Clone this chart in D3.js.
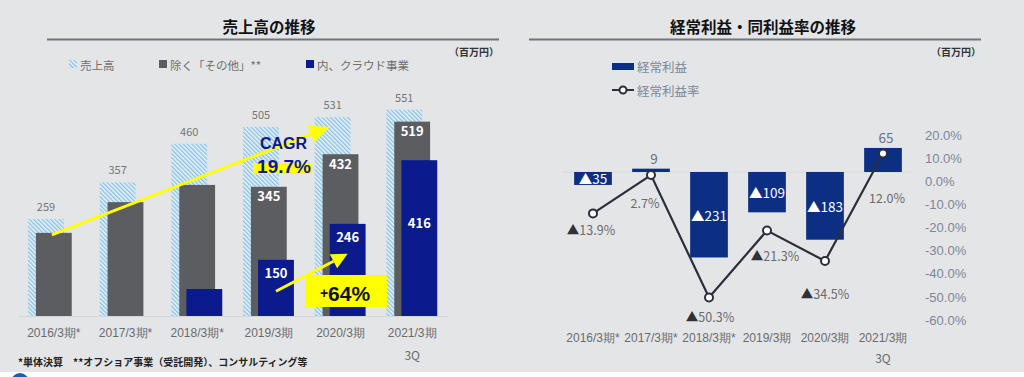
<!DOCTYPE html>
<html>
<head>
<meta charset="utf-8">
<script src="https://cdn.jsdelivr.net/npm/d3@7"></script>
<style>
  body { margin: 0; background: #fff; }
  svg { display: block; font-family: "Noto Sans CJK JP", "Noto Sans", sans-serif; }
</style>
</head>
<body>
<div id="chart"></div>
<script>
// categories
var years = ["2016/3期*", "2017/3期*", "2018/3期*", "2019/3期", "2020/3期", "2021/3期"];
var yearSub = ["", "", "", "", "", "3Q"];

// left chart: 売上高 (百万円)
var sales = [259, 357, 460, 505, 531, 551];
var exOther = [222, 304, 350, 345, 432, 519];
var cloud = [0, 0, 72, 150, 246, 416];
var labelFrom = 3; // inner labels only from 2019/3期

// right chart: 経常利益 (百万円) and 経常利益率 (%)
var ordinary = [-35, 9, -231, -109, -183, 65];
var ordinaryRate = [-13.9, 2.7, -50.3, -21.3, -34.5, 12.0];
var rateTicks = [20, 10, 0, -10, -20, -30, -40, -50, -60];

var W = 1024, H = 377;
var navy = "#0b1a8d", gray = "#5c5d61", navy2 = "#0c2f84", lineCol = "#2b2f3b";
var latin = "'Liberation Sans', Arial, sans-serif";

var svg = d3.select("#chart")
  .append("svg")
  .attr("width", W)
  .attr("height", H);

svg.append("rect").attr("width", W).attr("height", 372).attr("fill", "#e4e5e7");
svg.append("circle").attr("cx", 20).attr("cy", 382).attr("r", 9).attr("fill", "#1f5fa8");

// hatch for 売上高
var pat = svg.append("defs").append("pattern")
  .attr("id", "hatch")
  .attr("patternUnits", "userSpaceOnUse")
  .attr("width", 3).attr("height", 3)
  .attr("patternTransform", "rotate(-45)");
pat.append("rect").attr("width", 3).attr("height", 3).attr("fill", "#eef5fa");
pat.append("rect").attr("width", 1.5).attr("height", 3).attr("fill", "#8cc1e5");

// titles
function title(txt, cx, x0, x1) {
  svg.append("text").attr("x", cx).attr("y", 26)
    .attr("text-anchor", "middle").attr("dominant-baseline", "central")
    .attr("font-size", 15.5).attr("font-weight", "bold").attr("fill", "#111")
    .text(txt);
  svg.append("line").attr("x1", x0).attr("x2", x1).attr("y1", 39.5).attr("y2", 39.5)
    .attr("stroke", "#70747b").attr("stroke-width", 2.2);
  svg.append("text").attr("x", x1).attr("y", 51)
    .attr("text-anchor", "end").attr("dominant-baseline", "central")
    .attr("font-size", 10).attr("font-weight", "bold").attr("fill", "#333")
    .text("（百万円）");
}
title("売上高の推移", 269, 47, 499);
title("経常利益・同利益率の推移", 763, 529, 981);

// ---------- left chart ----------
var x1 = d3.scaleBand().domain(years).range([18, 448]);
var bw1 = x1.bandwidth();
var barW1 = bw1 * 0.5;
var y1 = d3.scaleLinear().domain([0, 600]).range([316, 91.3]);

// legend
var leg1 = [
  { label: "売上高", fill: "url(#hatch)", x: 69 },
  { label: "除く「その他」**", fill: gray, x: 159 },
  { label: "内、クラウド事業", fill: navy, x: 306 }
];
leg1.forEach(function (d) {
  svg.append("rect").attr("x", d.x).attr("y", 60).attr("width", 8).attr("height", 8).attr("fill", d.fill);
  svg.append("text").attr("x", d.x + 11).attr("y", 64.5)
    .attr("dominant-baseline", "central").attr("font-size", 11.5).attr("fill", "#6e6e6e")
    .text(d.label);
});

var g1 = svg.append("g");
g1.selectAll(".sales").data(sales).join("rect")
  .attr("x", (d, i) => x1(years[i]) + bw1 * 0.14)
  .attr("y", d => y1(d))
  .attr("width", barW1)
  .attr("height", d => y1(0) - y1(d))
  .attr("fill", "url(#hatch)");
g1.selectAll(".ex").data(exOther).join("rect")
  .attr("x", (d, i) => x1(years[i]) + bw1 * 0.25)
  .attr("y", d => y1(d))
  .attr("width", barW1)
  .attr("height", d => y1(0) - y1(d))
  .attr("fill", gray);
g1.selectAll(".cloud").data(cloud).join("rect")
  .attr("x", (d, i) => x1(years[i]) + bw1 * 0.35)
  .attr("y", d => y1(d))
  .attr("width", barW1)
  .attr("height", d => y1(0) - y1(d))
  .attr("fill", navy);

// value labels
g1.selectAll(".salesLbl").data(sales).join("text")
  .attr("x", (d, i) => x1(years[i]) + bw1 * 0.14 + barW1 / 2)
  .attr("y", d => y1(d) - 13)
  .attr("text-anchor", "middle").attr("dominant-baseline", "central")
  .attr("font-size", 11).attr("fill", "#757575")
  .text(d => d);
g1.selectAll(".exLbl").data(exOther).join("text")
  .filter((d, i) => i >= labelFrom)
  .attr("x", (d, i) => x1(years[i + labelFrom]) + bw1 * 0.25 + barW1 / 2)
  .attr("y", d => y1(d) + 9)
  .attr("text-anchor", "middle").attr("dominant-baseline", "central")
  .attr("font-size", 13).attr("font-weight", "bold").attr("fill", "#fff")
  .text(d => d);
g1.selectAll(".cloudLbl").data(cloud).join("text")
  .filter((d, i) => i >= labelFrom)
  .attr("x", (d, i) => x1(years[i + labelFrom]) + bw1 * 0.35 + barW1 / 2)
  .attr("y", (d, i) => y1(d) + (i + labelFrom === years.length - 1 ? 62 : 13))
  .attr("text-anchor", "middle").attr("dominant-baseline", "central")
  .attr("font-size", 13).attr("font-weight", "bold").attr("fill", "#fff")
  .text(d => d);

// x axis
var ax1 = svg.append("g")
  .attr("transform", "translate(0,316)")
  .call(d3.axisBottom(x1).tickSize(0).tickPadding(12.5));
ax1.select(".domain").attr("stroke", "#d3d5d8");
ax1.selectAll("text").attr("font-size", 12).attr("fill", "#6b6b6b").attr("font-family", null);
years.forEach(function (c, i) {
  if (yearSub[i]) {
    svg.append("text").attr("x", x1(c) + bw1 / 2).attr("y", 354)
      .attr("text-anchor", "middle").attr("dominant-baseline", "central")
      .attr("font-size", 12).attr("fill", "#6b6b6b").text(yearSub[i]);
  }
});

// arrows
function arrow(xa, ya, xb, yb, len, half) {
  var dx = xb - xa, dy = yb - ya, L = Math.sqrt(dx * dx + dy * dy);
  var ux = dx / L, uy = dy / L;
  var bx = xb - ux * len, by = yb - uy * len;
  svg.append("line").attr("x1", xa).attr("y1", ya).attr("x2", bx).attr("y2", by)
    .attr("stroke", "#ffff00").attr("stroke-width", 3);
  svg.append("polygon")
    .attr("points", [[xb, yb], [bx - uy * half, by + ux * half], [bx + uy * half, by - ux * half]].join(" "))
    .attr("fill", "#ffff00");
}
arrow(x1(years[0]) + bw1 * 0.25 + barW1 / 2 - 2, y1(exOther[0]) + 2,
      x1(years[4]) + bw1 * 0.14 + barW1 / 2 - 3, y1(505), 20, 9);

// CAGR
svg.append("rect").attr("x", 253).attr("y", 163).attr("width", 58).attr("height", 11).attr("fill", "#ffff00");
svg.append("text").attr("x", 283.5).attr("y", 143)
  .attr("text-anchor", "middle").attr("dominant-baseline", "central")
  .attr("font-family", latin).attr("font-weight", "bold").attr("font-size", 16).attr("fill", navy)
  .text("CAGR");
svg.append("text").attr("x", 284).attr("y", 166)
  .attr("text-anchor", "middle").attr("dominant-baseline", "central")
  .attr("font-family", latin).attr("font-weight", "bold").attr("font-size", 19).attr("fill", navy)
  .text("19.7%");

arrow(x1(years[3]) + bw1 * 0.35 + barW1 / 2, y1(66),
      x1(years[4]) + bw1 * 0.35 + barW1 / 2, y1(166), 16, 8);
svg.append("rect").attr("x", 305).attr("y", 275).attr("width", 82).attr("height", 32).attr("fill", "#ffff00");
var t64 = svg.append("text").attr("x", 345).attr("y", 293)
  .attr("text-anchor", "middle").attr("dominant-baseline", "central")
  .attr("font-family", latin).attr("font-weight", "bold").attr("fill", "#111");
t64.append("tspan").attr("font-size", 14).text("+");
t64.append("tspan").attr("font-size", 21).text("64%");

// footnote
svg.append("text").attr("x", 18).attr("y", 361)
  .attr("dominant-baseline", "central").attr("font-size", 10).attr("font-weight", "bold").attr("fill", "#222")
  .text("*単体決算　**オフショア事業（受託開発）、コンサルティング等");

// ---------- right chart ----------
var x2 = d3.scaleBand().domain(years).range([564, 912]);
var bw2 = x2.bandwidth();
var barW2 = bw2 * 0.65;
var y2 = d3.scaleLinear().domain([-250, 100]).range([264.5, 135]);
var yr = d3.scaleLinear().domain([-60, 20]).range([320, 135]);

// legend
svg.append("rect").attr("x", 612).attr("y", 63).attr("width", 22).attr("height", 7).attr("fill", navy2);
svg.append("text").attr("x", 637).attr("y", 66.5).attr("dominant-baseline", "central")
  .attr("font-size", 12.5).attr("fill", "#7d8698").text("経常利益");
svg.append("line").attr("x1", 612).attr("x2", 634).attr("y1", 90).attr("y2", 90)
  .attr("stroke", lineCol).attr("stroke-width", 2);
svg.append("circle").attr("cx", 623).attr("cy", 90).attr("r", 3.5)
  .attr("fill", "#fff").attr("stroke", lineCol).attr("stroke-width", 2);
svg.append("text").attr("x", 637).attr("y", 90).attr("dominant-baseline", "central")
  .attr("font-size", 12.5).attr("fill", "#7d8698").text("経常利益率");

svg.append("line").attr("x1", 562).attr("x2", 912).attr("y1", y2(0)).attr("y2", y2(0))
  .attr("stroke", "#d6d9de").attr("stroke-width", 1);

var g2 = svg.append("g");
g2.selectAll("rect").data(ordinary).join("rect")
  .attr("x", (d, i) => x2(years[i]) + bw2 * 0.175)
  .attr("y", d => y2(Math.max(d, 0)))
  .attr("width", barW2)
  .attr("height", d => Math.abs(y2(d) - y2(0)))
  .attr("fill", navy2);

// bar labels
var bl = g2.selectAll(".bl").data(ordinary).join("text")
  .attr("x", (d, i) => x2(years[i]) + bw2 / 2 + (d > 0 ? 3 : 0))
  .attr("y", d => d < 0 ? (y2(d) + y2(0)) / 2 : y2(d) - 11)
  .attr("text-anchor", "middle").attr("dominant-baseline", "central")
  .attr("font-size", 13.5)
  .attr("fill", d => d < 0 ? "#fff" : "#6b7080")
  .text(d => d < 0 ? "▲" + (-d) : d);

// rate line
var line = d3.line()
  .x((d, i) => x2(years[i]) + bw2 / 2)
  .y(d => yr(d));
g2.append("path").datum(ordinaryRate)
  .attr("d", line).attr("fill", "none")
  .attr("stroke", lineCol).attr("stroke-width", 2.2);
g2.selectAll("circle").data(ordinaryRate).join("circle")
  .attr("cx", (d, i) => x2(years[i]) + bw2 / 2)
  .attr("cy", d => yr(d))
  .attr("r", 4)
  .attr("fill", "#fff").attr("stroke", lineCol).attr("stroke-width", 2);

// rate labels (manually nudged as in the source slide)
var rateShift = [[-2, 16], [-6, 27], [1, 18], [8, 24], [0, 32], [4, 43]];
g2.selectAll(".rl").data(ordinaryRate).join("text")
  .attr("x", (d, i) => x2(years[i]) + bw2 / 2 + rateShift[i][0])
  .attr("y", (d, i) => yr(d) + rateShift[i][1])
  .attr("text-anchor", "middle").attr("dominant-baseline", "central")
  .attr("font-size", 12.5).attr("fill", "#6b6b6b")
  .each(function (d) {
    var t = d3.select(this);
    if (d < 0) t.append("tspan").attr("fill", "#2e3138").text("▲");
    t.append("tspan").text(Math.abs(d).toFixed(1) + "%");
  });

// right axis
var ax2 = svg.append("g")
  .attr("transform", "translate(925,0)")
  .call(d3.axisRight(yr).tickValues(rateTicks).tickSize(0).tickPadding(0)
    .tickFormat(d => d.toFixed(1) + "%"));
ax2.select(".domain").remove();
ax2.selectAll("text").attr("font-size", 13).attr("fill", "#7d8698").attr("font-family", null);

// x axis
var ax3 = svg.append("g")
  .attr("transform", "translate(0,320)")
  .call(d3.axisBottom(x2).tickSize(0).tickPadding(13.5));
ax3.select(".domain").remove();
ax3.selectAll("text").attr("font-size", 12).attr("fill", "#6b6b6b").attr("font-family", null);
years.forEach(function (c, i) {
  if (yearSub[i]) {
    svg.append("text").attr("x", x2(c) + bw2 / 2).attr("y", 357)
      .attr("text-anchor", "middle").attr("dominant-baseline", "central")
      .attr("font-size", 12).attr("fill", "#6b6b6b").text(yearSub[i]);
  }
});
</script>
</body>
</html>
